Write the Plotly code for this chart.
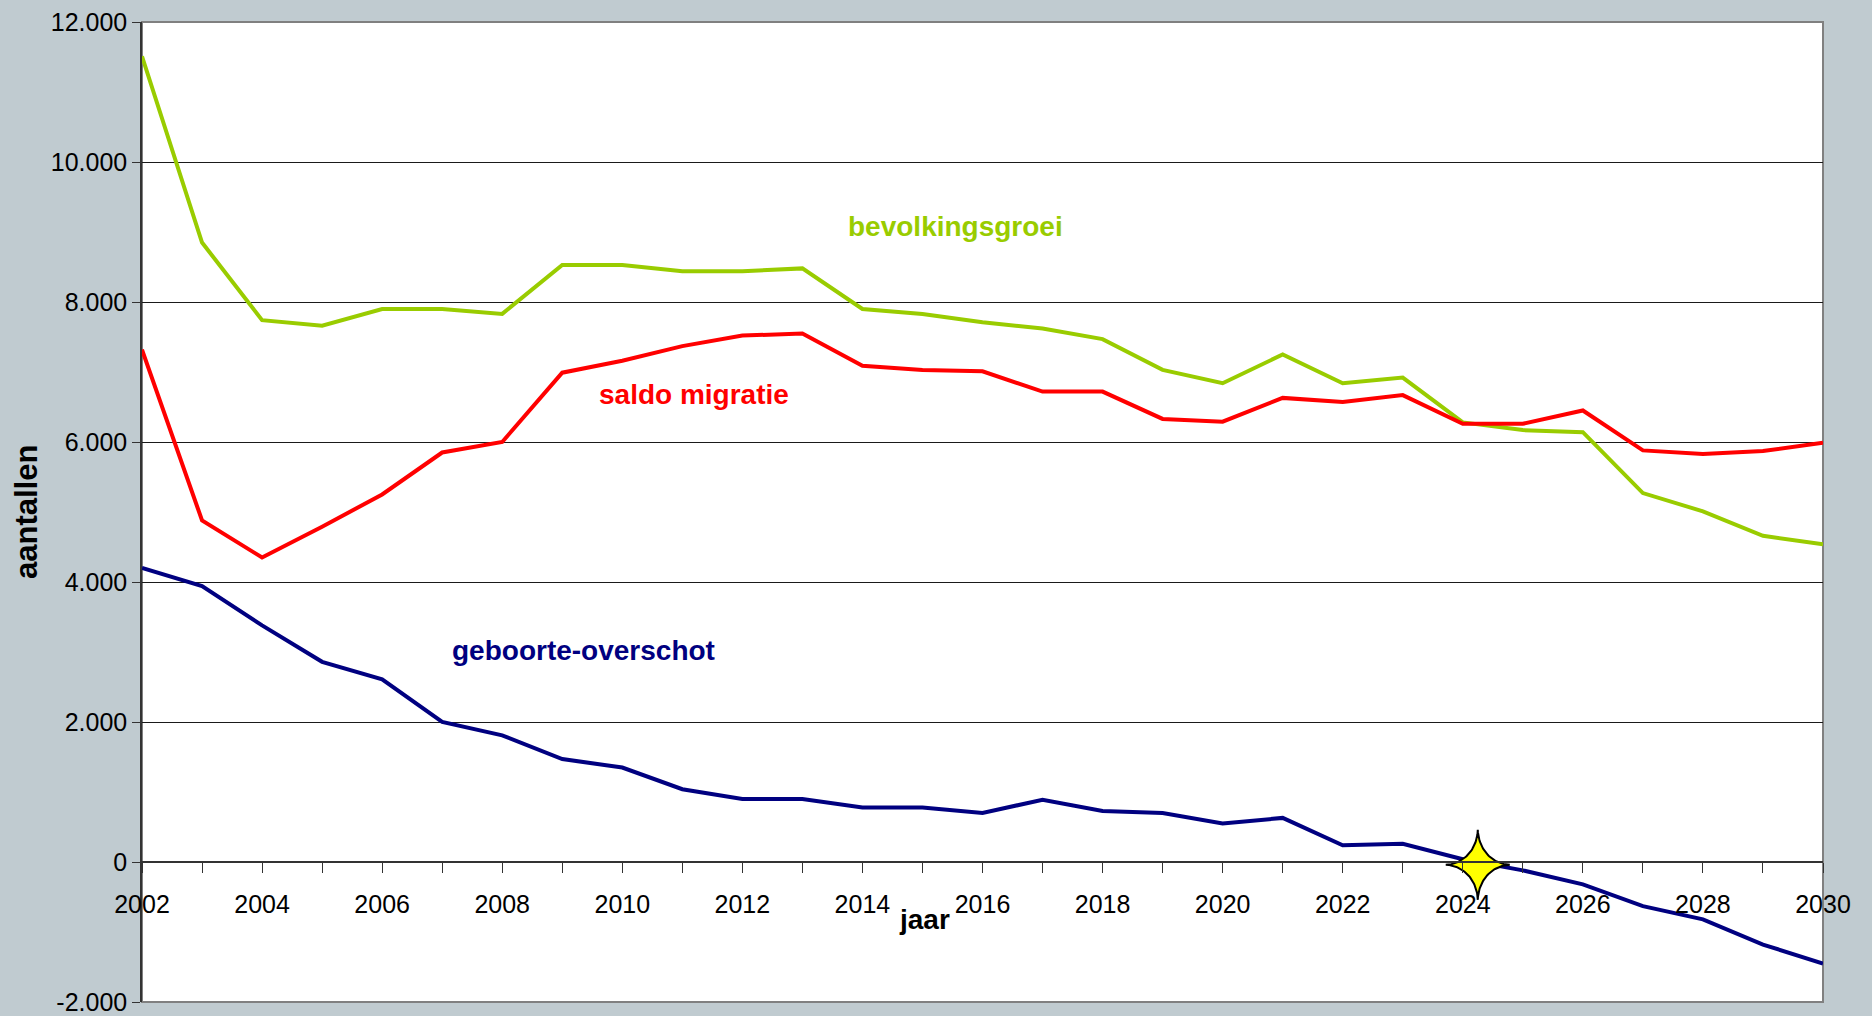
import numpy as np
import plotly.graph_objects as go

years = list(range(2002, 2031))

bevolkingsgroei = [11510, 8850, 7740, 7660, 7900, 7900, 7830, 8530, 8530, 8440,
                   8440, 8480, 7900, 7830, 7710, 7620, 7470, 7030, 6840, 7250,
                   6840, 6920, 6280, 6170, 6140, 5270, 5010, 4660, 4540]

saldo_migratie = [7320, 4880, 4350, 4790, 5250, 5850, 6000, 6990, 7160, 7370,
                  7520, 7550, 7090, 7030, 7010, 6720, 6720, 6330, 6290, 6630,
                  6570, 6670, 6260, 6260, 6450, 5880, 5830, 5870, 5990]

geboorte_overschot = [4200, 3940, 3380, 2860, 2610, 2000, 1810, 1470, 1350, 1040,
                      900, 900, 780, 780, 700, 890, 730, 700, 550, 630,
                      240, 260, 40, -120, -320, -630, -820, -1180, -1450]

star_x = 2024.25
star_y = -40

y_tickvals = [-2000, 0, 2000, 4000, 6000, 8000, 10000, 12000]
y_ticktext = ["-2.000", "0", "2.000", "4.000", "6.000", "8.000", "10.000", "12.000"]
x_ticktext = [str(y) if (y % 2 == 0) else "" for y in years]

GREEN = "#99CC00"
RED = "#FF0000"
NAVY = "#000080"
BG = "#C0CBD0"
FONT = "Liberation Sans, Arial, sans-serif"

W, H = 1872, 1016
ML, MR, MT, MB = 142, 49, 22, 14
XR = [2002, 2030]
YR = [-2000, 12000]
px_per_x = (W - ML - MR) / (XR[1] - XR[0])
px_per_y = (H - MT - MB) / (YR[1] - YR[0])

# 4-pointed sparkle star outline (pixel sizes converted via axis scales)
t = np.linspace(0, 2 * np.pi, 241)
p = 3.5
rx_px, ry_px = 32, 35
sx = star_x + rx_px / px_per_x * np.sign(np.cos(t)) * np.abs(np.cos(t)) ** p
sy = star_y + ry_px / px_per_y * np.sign(np.sin(t)) * np.abs(np.sin(t)) ** p

fig = go.Figure()
fig.add_trace(go.Scatter(x=years, y=bevolkingsgroei, mode="lines",
                         line=dict(color=GREEN, width=4), name="bevolkingsgroei"))
fig.add_trace(go.Scatter(x=years, y=saldo_migratie, mode="lines",
                         line=dict(color=RED, width=4), name="saldo migratie"))
fig.add_trace(go.Scatter(x=years, y=geboorte_overschot, mode="lines",
                         line=dict(color=NAVY, width=4), name="geboorte-overschot"))
fig.add_trace(go.Scatter(x=sx, y=sy, mode="lines", fill="toself", fillcolor="#FFFF00",
                         line=dict(color="black", width=2), cliponaxis=False,
                         showlegend=False, hoverinfo="skip"))

fig.update_layout(
    width=W, height=H,
    margin=dict(l=ML, r=MR, t=MT, b=MB),
    paper_bgcolor=BG, plot_bgcolor="white",
    showlegend=False,
    font=dict(family=FONT, size=25, color="black"),
    xaxis=dict(range=XR, tickvals=years, ticktext=x_ticktext, automargin=False,
               anchor="free", position=1/7, showgrid=False, zeroline=False,
               showline=True, linecolor="#333333", linewidth=1.5,
               ticks="outside", ticklen=10, tickcolor="#333333", tickwidth=1.2,
               ticklabelstandoff=10,
               tickfont=dict(family=FONT, size=25, color="black")),
    yaxis=dict(range=YR, tickvals=y_tickvals, ticktext=y_ticktext, automargin=False,
               showgrid=True, gridcolor="#1a1a1a", gridwidth=1, zeroline=False,
               showline=True, linecolor="#333333", linewidth=1.5,
               ticks="outside", ticklen=8, tickcolor="#333333",
               tickfont=dict(family=FONT, size=25, color="black")),
    shapes=[dict(type="rect", xref="paper", yref="paper", x0=0, x1=1, y0=0, y1=1,
                 line=dict(color="#808080", width=2), fillcolor="rgba(0,0,0,0)",
                 layer="below")],
    annotations=[
        dict(text="<b>bevolkingsgroei</b>", x=2015.55, y=9072, xref="x", yref="y",
             showarrow=False, font=dict(family=FONT, size=28, color=GREEN)),
        dict(text="<b>saldo migratie</b>", x=2011.2, y=6685, xref="x", yref="y",
             showarrow=False, font=dict(family=FONT, size=28, color=RED)),
        dict(text="<b>geboorte-overschot</b>", x=2009.35, y=3018, xref="x", yref="y",
             showarrow=False, font=dict(family=FONT, size=28, color=NAVY)),
        dict(text="<b>jaar</b>", x=2015.04, y=-821, xref="x", yref="y",
             showarrow=False, font=dict(family=FONT, size=28, color="black")),
        dict(text="<b>aantallen</b>", x=-0.069, y=0.5, xref="paper", yref="paper",
             textangle=-90, showarrow=False, xanchor="center", yanchor="middle",
             font=dict(family=FONT, size=31, color="black")),
    ],
)

fig.write_html("out.html", config={"displayModeBar": False})

with open("out.html", "r", encoding="utf-8") as f:
    html = f.read()
html = html.replace("<body>", '<body style="margin:0;padding:0;background-color:%s;">' % BG, 1)
with open("out.html", "w", encoding="utf-8") as f:
    f.write(html)
